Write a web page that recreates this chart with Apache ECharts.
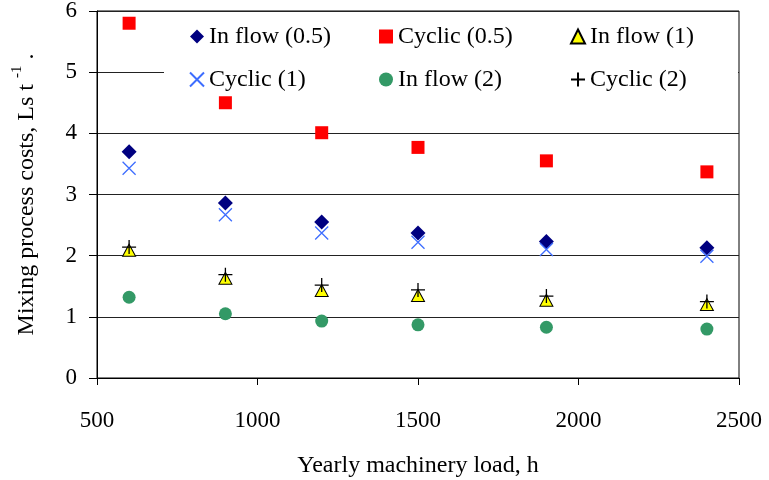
<!DOCTYPE html>
<html>
<head>
<meta charset="utf-8">
<script src="https://cdn.jsdelivr.net/npm/echarts@6/dist/echarts.min.js"></script>
<style>
  html, body { margin: 0; padding: 0; background: #fff; }
  #chart { width: 769px; height: 480px; }
</style>
</head>
<body>
<div id="chart"></div>
<script>
// Yearly machinery load (h) and mixing process costs (Ls per tonne)
const loads = [600, 900, 1200, 1500, 1900, 2400];
const inflow05 = [3.70, 2.86, 2.55, 2.37, 2.23, 2.13];
const cyclic05 = [5.80, 4.50, 4.01, 3.77, 3.55, 3.37];
const inflow1 = [2.09, 1.63, 1.43, 1.35, 1.27, 1.20];
const cyclic1 = [3.43, 2.67, 2.37, 2.22, 2.10, 1.99];
const inflow2 = [1.32, 1.05, 0.93, 0.87, 0.83, 0.80];
const cyclic2 = [2.14, 1.69, 1.52, 1.44, 1.34, 1.25];

const seriesNames = ['In flow (0.5)', 'Cyclic (0.5)', 'In flow (1)', 'Cyclic (1)', 'In flow (2)', 'Cyclic (2)'];

const FONT = '"Liberation Serif", "Times New Roman", serif';
const pair = (ys) => loads.map((x, i) => [x, ys[i]]);

const CROSS = 'path://M0,0L10,10M10,0L0,10';
const PLUS = 'path://M5,0L5,10M0,5L10,5';

const legendBase = {
  orient: 'vertical',
  top: 24,
  padding: 0,
  itemWidth: 14,
  itemHeight: 14,
  itemGap: 18,
  textStyle: { fontFamily: FONT, fontSize: 24, color: '#000', lineHeight: 25 },
  selectedMode: false
};

const chart = echarts.init(document.getElementById('chart'), null, { renderer: 'canvas' });
chart.setOption({
  animation: false,
  backgroundColor: '#fff',
  grid: {
    left: 97, right: 30, top: 11, bottom: 102,
    containLabel: false, outerBoundsMode: 'none',
    show: true, borderColor: '#000', borderWidth: 1, backgroundColor: 'transparent'
  },
  graphic: [{
    type: 'rect', z: 1,
    shape: { x: 164, y: 12, width: 574, height: 80 },
    style: { fill: '#fff' }
  }],
  legend: [
    Object.assign({}, legendBase, { left: 189, data: [seriesNames[0], seriesNames[3]] }),
    Object.assign({}, legendBase, { left: 379, data: [seriesNames[1], seriesNames[4]] }),
    Object.assign({}, legendBase, { left: 570, data: [seriesNames[2], seriesNames[5]] })
  ],
  xAxis: {
    type: 'value', min: 500, max: 2500, interval: 500,
    name: 'Yearly machinery load, h',
    nameLocation: 'middle', nameGap: 76,
    nameTextStyle: { fontFamily: FONT, fontSize: 24, color: '#000' },
    axisLine: { show: true, lineStyle: { color: '#000', width: 1 } },
    axisTick: { show: true, length: 7, lineStyle: { color: '#000' } },
    axisLabel: { fontFamily: FONT, fontSize: 23, color: '#000', margin: 31, formatter: (v) => String(v) },
    splitLine: { show: false }
  },
  yAxis: {
    type: 'value', min: 0, max: 6, interval: 1,
    name: '{a|Mixing process costs, Ls t }{s|-1}{a| .}',
    nameLocation: 'middle', nameGap: 54, nameRotate: 90,
    nameTextStyle: {
      fontFamily: FONT, fontSize: 24, color: '#000',
      rich: {
        a: { fontFamily: FONT, fontSize: 24, color: '#000' },
        s: { fontFamily: FONT, fontSize: 15, color: '#000', padding: [0, 0, 18, 0] }
      }
    },
    axisLine: { show: true, lineStyle: { color: '#000', width: 1 } },
    axisTick: { show: true, length: 8, lineStyle: { color: '#000' } },
    axisLabel: { fontFamily: FONT, fontSize: 23, color: '#000', margin: 20 },
    splitLine: { show: true, lineStyle: { color: '#222', width: 1 } }
  },
  series: [
    {
      name: seriesNames[0], type: 'scatter', data: pair(inflow05),
      symbol: 'diamond', symbolSize: 15, z: 3,
      itemStyle: { color: '#000080', opacity: 1 }
    },
    {
      name: seriesNames[1], type: 'scatter', data: pair(cyclic05),
      symbol: 'rect', symbolSize: 13, z: 3,
      itemStyle: { color: '#ff0000', opacity: 1 }
    },
    {
      name: seriesNames[2], type: 'scatter', data: pair(inflow1),
      symbol: 'triangle', symbolSize: [13, 12], z: 3,
      itemStyle: { color: '#ffff00', borderColor: '#000', borderWidth: 1, opacity: 1 }
    },
    {
      name: seriesNames[3], type: 'scatter', data: pair(cyclic1),
      symbol: CROSS, symbolSize: 13, z: 3,
      itemStyle: { color: 'transparent', borderColor: '#3d6dff', borderWidth: 1.3, opacity: 1 }
    },
    {
      name: seriesNames[4], type: 'scatter', data: pair(inflow2),
      symbol: 'circle', symbolSize: 13, z: 3,
      itemStyle: { color: '#339966', opacity: 1 }
    },
    {
      name: seriesNames[5], type: 'scatter', data: pair(cyclic2),
      symbol: PLUS, symbolSize: 14, z: 4,
      itemStyle: { color: 'transparent', borderColor: '#000', borderWidth: 1.3, opacity: 1 }
    }
  ]
});
</script>
</body>
</html>
